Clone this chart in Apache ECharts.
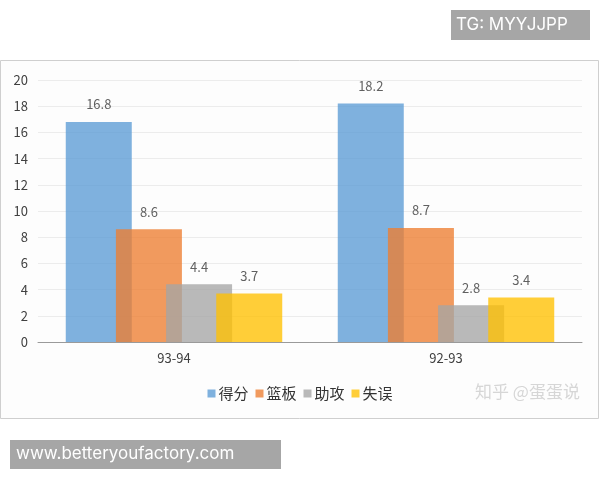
<!DOCTYPE html>
<html>
<head>
<meta charset="utf-8">
<script src="https://cdn.jsdelivr.net/npm/echarts@6/dist/echarts.min.js"></script>
<style>
  html, body { margin: 0; padding: 0; background: #fff; }
  #main { width: 600px; height: 480px; }
</style>
</head>
<body>
<div id="main"></div>
<script>
// 数据
var seasons = ['93-94', '92-93'];
var scoreData = [16.8, 18.2];    // 得分
var reboundData = [8.6, 8.7];    // 篮板
var assistData = [4.4, 2.8];     // 助攻
var turnoverData = [3.7, 3.4];   // 失误
var yTicks = [0, 2, 4, 6, 8, 10, 12, 14, 16, 18, 20];

var chart = echarts.init(document.getElementById('main'));

var font = "'Noto Sans CJK SC', 'Open Sans', sans-serif";

function barSeries(name, color, data) {
    return {
        name: name,
        type: 'bar',
        barWidth: 66,
        barGap: '-24%',
        data: data,
        itemStyle: {
            color: color,
            opacity: 0.78
        },
        label: {
            show: true,
            position: 'top',
            distance: 11,
            color: '#333',
            fontSize: 13,
            fontFamily: font
        }
    };
}

var option = {
    backgroundColor: '#fff',
    animation: false,
    textStyle: { fontFamily: font },
    grid: {
        left: 38,
        right: 18,
        top: 80,
        bottom: 138
    },
    legend: {
        bottom: 74,
        left: 'center',
        itemWidth: 8,
        itemHeight: 8,
        itemGap: 7,
        icon: 'rect',
        textStyle: { fontSize: 15, color: '#333', padding: [0, 0, 0, -2] },
        data: ['得分', '篮板', '助攻', '失误']
    },
    xAxis: {
        type: 'category',
        data: seasons,
        axisLine: { lineStyle: { color: '#9a9a9a', width: 1 } },
        axisTick: { show: false },
        axisLabel: { color: '#404040', fontSize: 13, margin: 10 }
    },
    yAxis: {
        type: 'value',
        min: yTicks[0],
        max: yTicks[yTicks.length - 1],
        interval: 2,
        axisLine: { show: false },
        axisTick: { show: false },
        axisLabel: { color: '#404040', fontSize: 13, margin: 10 },
        splitLine: { lineStyle: { color: '#ececec' } }
    },
    graphic: [
        // 外框
        {
            type: 'rect',
            z: -10,
            shape: { x: 0.5, y: 60.5, width: 598, height: 358 },
            style: { fill: '#fdfdfd', stroke: '#cfcfcf', lineWidth: 1 }
        },
        // 水印
        {
            type: 'text',
            left: 475,
            top: 383,
            style: { text: '知乎 @蛋蛋说', fill: '#d6d6d6', fontSize: 17, fontFamily: font }
        },
        {
            type: 'group',
            left: 451,
            top: 10,
            children: [
                { type: 'rect', shape: { x: 0, y: 0, width: 139, height: 30 }, style: { fill: '#a6a6a6' } },
                { type: 'text', x: 5, y: 6, style: { text: 'TG: MYYJJPP', fill: '#fff', fontSize: 17, fontFamily: 'Inter, sans-serif' } }
            ]
        },
        {
            type: 'group',
            left: 10,
            top: 440,
            children: [
                { type: 'rect', shape: { x: 0, y: 0, width: 271, height: 29 }, style: { fill: '#a6a6a6' } },
                { type: 'text', x: 6, y: 5, style: { text: 'www.betteryoufactory.com', fill: '#fff', fontSize: 17, fontFamily: 'Inter, sans-serif' } }
            ]
        }
    ],
    series: [
        barSeries('得分', '#5B9BD5', scoreData),
        barSeries('篮板', '#ED7D31', reboundData),
        barSeries('助攻', '#A5A5A5', assistData),
        barSeries('失误', '#FFC000', turnoverData)
    ]
};

chart.setOption(option);
</script>
</body>
</html>
